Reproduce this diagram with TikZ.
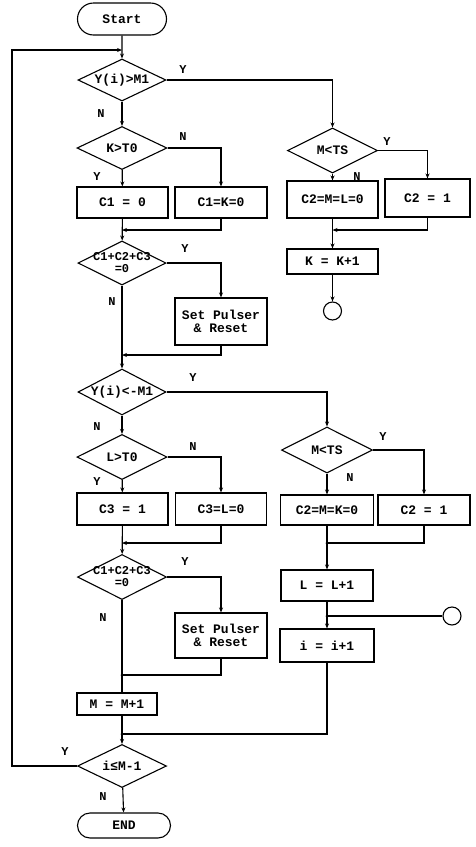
\documentclass[tikz,border=0pt]{standalone}
\usepackage{fontspec}
\setmonofont{Liberation Mono}
\usetikzlibrary{shapes.geometric,shapes.misc,arrows.meta}
\begin{document}
\begin{tikzpicture}[x=1pt,y=-1pt,
  line width=1.1pt,
  >={Stealth[length=5pt,width=4pt]},
  txt/.style={font=\ttfamily\bfseries\fontsize{13}{13}\selectfont},
  box/.style={txt,draw,rectangle,inner sep=1pt,align=center},
  dia/.style={txt,draw,diamond,inner sep=-20pt,align=center},
  dia2/.style={dia,font=\ttfamily\bfseries\fontsize{12}{12}\selectfont},
  term/.style={txt,draw,rounded rectangle,inner sep=1pt},
  ring/.style={draw,circle,minimum size=18pt,inner sep=0pt},
  lab/.style={font=\ttfamily\bfseries\fontsize{12}{12}\selectfont,inner sep=0pt},
  dot/.style={fill,circle,inner sep=0pt,minimum size=3pt}]
\useasboundingbox (0,0) rectangle (475,847);
% ---- main column nodes
\node[term,minimum width=91pt,minimum height=32pt] (start) at (122,19) {Start};
\node[dia,minimum width=88pt,minimum height=42pt] (d1) at (122,80) {Y(i)>M1};
\node[dia,minimum width=90pt,minimum height=43pt] (d2) at (122,148) {K>T0};
\node[box,minimum width=91pt,minimum height=31pt] (b1) at (122.5,202.5) {C1 = 0};
\node[box,minimum width=92pt,minimum height=31pt] (b2) at (221,202.5) {C1=K=0};
\node[dia2,minimum width=88pt,minimum height=44pt] (d3) at (122,263) {C1+C2+C3\\=0};
\node[box,minimum width=92pt,minimum height=47pt] (b3) at (221,321.5) {Set Pulser\\\& Reset};
\node[dia,minimum width=90pt,minimum height=45pt] (d4) at (332.5,150.5) {M<TS};
\node[box,minimum width=91pt,minimum height=37pt] (b4) at (332.5,199.5) {C2=M=L=0};
\node[box,minimum width=85pt,minimum height=38pt] (b5) at (427.5,198) {C2 = 1};
\node[box,minimum width=91pt,minimum height=25pt] (b6) at (332.5,261.5) {K = K+1};
\node[ring] (c1) at (332.5,311) {};
\node[dia,minimum width=88pt,minimum height=46pt] (d5) at (122,392) {Y(i)<-M1};
\node[dia,minimum width=90pt,minimum height=45pt] (d6) at (122,457) {L>T0};
\node[box,minimum width=91pt,minimum height=32pt] (b7) at (122.5,509) {C3 = 1};
\node[box,minimum width=91pt,minimum height=32pt] (b8) at (221,509) {C3=L=0};
\node[dia,minimum width=91pt,minimum height=46pt] (d7) at (327,450) {M<TS};
\node[box,minimum width=93pt,minimum height=30pt] (b9) at (327,510) {C2=M=K=0};
\node[box,minimum width=92pt,minimum height=30pt] (b10) at (424,510) {C2 = 1};
\node[dia2,minimum width=89pt,minimum height=45pt] (d8) at (122,577) {C1+C2+C3\\=0};
\node[box,minimum width=92pt,minimum height=45pt] (b11) at (221,635.5) {Set Pulser\\\& Reset};
\node[box,minimum width=92pt,minimum height=31pt] (b12) at (327,585.5) {L = L+1};
\node[ring] (c2) at (452,616) {};
\node[box,minimum width=94pt,minimum height=33pt] (b13) at (327,645.5) {i = i+1};
\node[box,minimum width=80pt,minimum height=22pt] (b14) at (117,704) {M = M+1};
\node[dia,minimum width=89pt,minimum height=43pt] (d9) at (122,766) {i≤M-1};
\node[term,minimum width=95pt,minimum height=25pt] (end) at (124,825.5) {END};
% ---- junction coordinates
\coordinate (lp) at (12,50);
\coordinate (m1) at (122,230);
\coordinate (m2) at (122,355);
\coordinate (m3) at (332.5,230);
\coordinate (m4) at (122,543);
\coordinate (m5) at (122,675);
\coordinate (m6) at (327,543);
\coordinate (m7) at (327,616);
\coordinate (m8) at (122,734);
% ---- connectors
\draw[->] (start) -- (d1);
\draw[->] (d9.west) -| (lp) -- (lp -| d1.north);
\draw[->] (d1.east) -| (d4.north);
\draw[->] (d1) -- (d2);
\draw[->] (d2) -- (b1);
\draw[->] (d2.east) -| (b2.north);
\draw[->] (b1) -- (d3);
\draw[->] (b2.south) |- (m1);
\draw[->] (d3.east) -| (b3.north);
\draw[->] (d3) -- (d5);
\draw[->] (b3.south) |- (m2);
\draw[->] (d4.east) -| (b5.north);
\draw[->] (d4) -- (b4);
\draw[->] (b4) -- (b6);
\draw[->] (b5.south) |- (m3);
\draw[->] (b6) -- (c1);
\draw[->] (d5.east) -| (d7.north);
\draw[->] (d5) -- (d6);
\draw[->] (d6) -- (b7);
\draw[->] (d6.east) -| (b8.north);
\draw[->] (b7) -- (d8);
\draw[->] (b8.south) |- (m4);
\draw[->] (d8.east) -| (b11.north);
\draw (d8.south) -- (m5 |- b14.north);
\draw (b11.south) |- (m5);
\draw[->] (d7.east) -| (b10.north);
\draw[->] (d7) -- (b9);
\draw[->] (b9) -- (b12);
\draw (b10.south) |- (m6);
\draw[->] (b12) -- (b13);
\draw (c2.west) -- (m7);
\draw (b13.south) |- (m8);
\draw[->] (m5 |- b14.south) -- (d9.north);
\draw[->] (d9) -- (end);
\node[dot] (p5) at (m5) {};
\node[dot] (p6) at (m6) {};
\node[dot] (p7) at (m7) {};
\node[dot] (p8) at (m8) {};
% ---- Y / N labels
\node[lab] (l1) at (183,70) {Y};
\node[lab] (l2) at (101,114) {N};
\node[lab] (l3) at (183,137) {N};
\node[lab] (l4) at (97,177) {Y};
\node[lab] (l5) at (185,249) {Y};
\node[lab] (l6) at (112,302) {N};
\node[lab] (l7) at (387,142) {Y};
\node[lab] (l8) at (357,177) {N};
\node[lab] (l9) at (193,378) {Y};
\node[lab] (l10) at (97,427) {N};
\node[lab] (l11) at (193,447) {N};
\node[lab] (l12) at (97,482) {Y};
\node[lab] (l13) at (383,437) {Y};
\node[lab] (l14) at (350,478) {N};
\node[lab] (l15) at (185,562) {Y};
\node[lab] (l16) at (103,618) {N};
\node[lab] (l17) at (65,752) {Y};
\node[lab] (l18) at (103,797) {N};
\end{tikzpicture}
\end{document}
